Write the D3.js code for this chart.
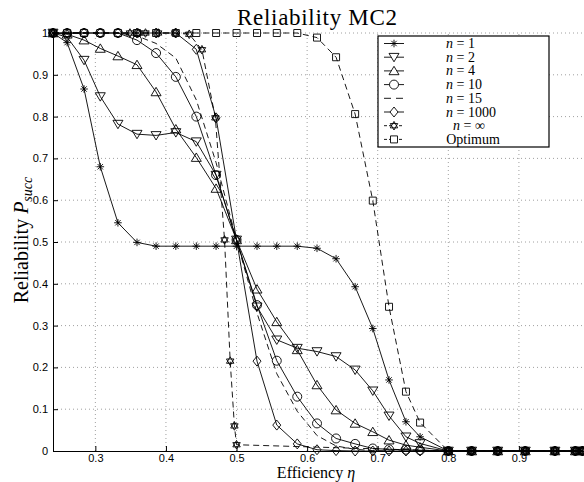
<!DOCTYPE html>
<html>
<head>
<meta charset="utf-8">
<script src="https://d3js.org/d3.v7.min.js"></script>
<style>
  body { margin: 0; background: #fff; }
  svg { display: block; }
</style>
</head>
<body>
<div id="chart"></div>
<script>
// efficiency grid used by most curves
var etaGrid = [0.24, 0.26, 0.284, 0.307, 0.332, 0.359, 0.386, 0.414, 0.443, 0.471, 0.5,
    0.529, 0.557, 0.586, 0.614, 0.641, 0.668, 0.693, 0.716, 0.74, 0.76,
    0.8, 0.833, 0.87, 0.909, 0.951, 0.98, 0.99];
// n = inf uses its own grid
var etaInf = [0.24, 0.349, 0.361, 0.371, 0.389, 0.413, 0.433, 0.451, 0.47, 0.483, 0.491, 0.497, 0.5,
    0.8, 0.833, 0.87, 0.909, 0.951, 0.98, 0.99];

var pN1 = [1, 0.977, 0.866, 0.68, 0.546, 0.499, 0.49, 0.49, 0.49, 0.49, 0.49,
    0.49, 0.49, 0.49, 0.485, 0.46, 0.393, 0.293, 0.17, 0.07, 0.034,
    0, 0, 0, 0, 0, 0, 0];
var pN2 = [1, 0.99, 0.935, 0.848, 0.782, 0.758, 0.755, 0.762, 0.74, 0.66, 0.505,
    0.345, 0.266, 0.246, 0.238, 0.226, 0.194, 0.144, 0.084, 0.034, 0.018,
    0, 0, 0, 0, 0, 0, 0];
var pN4 = [1, 0.997, 0.983, 0.963, 0.945, 0.924, 0.859, 0.77, 0.702, 0.628, 0.505,
    0.387, 0.309, 0.242, 0.158, 0.098, 0.066, 0.046, 0.026, 0.014, 0.009,
    0, 0, 0, 0, 0, 0, 0];
var pN10 = [1, 1, 1, 1, 1, 0.983, 0.952, 0.895, 0.8, 0.66, 0.505,
    0.349, 0.216, 0.13, 0.066, 0.03, 0.017, 0.006, 0.004, 0.003, 0.002,
    0, 0, 0, 0, 0, 0, 0];
var pN15 = [1, 1, 1, 1, 1, 0.993, 0.975, 0.94, 0.84, 0.69, 0.505,
    0.33, 0.185, 0.095, 0.037, 0.012, 0.004, 0.001, 0, 0, 0,
    0, 0, 0, 0, 0, 0, 0];
var pN1000 = [1, 1, 1, 1, 1, 1, 1, 1, 0.961, 0.797, 0.505,
    0.215, 0.062, 0.017, 0.003, 0.001, 0, 0, 0, 0, 0,
    0, 0, 0, 0, 0, 0, 0];
var pInf = [1, 1, 1, 1, 1, 1, 0.997, 0.96, 0.797, 0.505, 0.215, 0.06, 0.015,
    0, 0, 0, 0, 0, 0, 0];
var pOpt = [1, 1, 1, 1, 1, 1, 1, 1, 1, 1, 1,
    1, 1, 1, 0.989, 0.942, 0.806, 0.599, 0.345, 0.142, 0.068,
    0, 0, 0, 0, 0, 0, 0];

var xTicks = [0.3, 0.4, 0.5, 0.6, 0.7, 0.8, 0.9, 1.0];
var yTicks = [0, 0.1, 0.2, 0.3, 0.4, 0.5, 0.6, 0.7, 0.8, 0.9, 1];

var series = [
    { label: "1", eta: etaGrid, p: pN1, marker: "star", dash: null },
    { label: "2", eta: etaGrid, p: pN2, marker: "tdown", dash: null },
    { label: "4", eta: etaGrid, p: pN4, marker: "tup", dash: null },
    { label: "10", eta: etaGrid, p: pN10, marker: "circle", dash: null },
    { label: "15", eta: etaGrid, p: pN15, marker: null, dash: "6,4" },
    { label: "1000", eta: etaGrid, p: pN1000, marker: "diamond", dash: null },
    { label: "\u221E", eta: etaInf, p: pInf, marker: "hexagram", dash: "6,4" },
    { label: "Optimum", eta: etaGrid, p: pOpt, marker: "square", dash: "6,4" }
];

const width = 584, height = 482;
const svg = d3.select("#chart").append("svg")
    .attr("width", width)
    .attr("height", height);

const x = d3.scaleLinear().domain([0.24, 1.0]).range([53, 589.5]);
const y = d3.scaleLinear().domain([0, 1]).range([451, 33]);

// grid
const grid = svg.append("g").attr("stroke", "#888").attr("stroke-width", 0.8)
    .attr("stroke-dasharray", "1,3");
grid.selectAll(".gx").data(xTicks).join("line")
    .attr("x1", d => x(d)).attr("x2", d => x(d))
    .attr("y1", y(0)).attr("y2", y(1));
grid.selectAll(".gy").data(yTicks.slice(1)).join("line")
    .attr("x1", x(0.24)).attr("x2", x(1.0))
    .attr("y1", d => y(d)).attr("y2", d => y(d));

// axes (MATLAB style, ticks inward)
const xAxis = svg.append("g").attr("transform", `translate(0,${y(0)})`)
    .call(d3.axisBottom(x).tickValues(xTicks.filter(d => d < 0.95)).tickSizeInner(-5).tickSizeOuter(0)
        .tickPadding(3).tickFormat(d3.format(".1f")));
const yAxis = svg.append("g").attr("transform", `translate(${x(0.24)},0)`)
    .call(d3.axisLeft(y).tickValues(yTicks).tickSizeInner(-5).tickSizeOuter(0)
        .tickPadding(5).tickFormat(d => d === 0 || d === 1 ? d3.format("d")(d) : d3.format(".1f")(d)));
[xAxis, yAxis].forEach(a => {
    a.select(".domain").attr("stroke", "#000").attr("stroke-width", 1);
    a.selectAll(".tick line").attr("stroke", "#000");
    a.selectAll(".tick text").attr("font-family", "Liberation Sans, Arial, sans-serif")
        .attr("font-size", 11).attr("fill", "#000");
});

// marker shapes
function markerPath(type) {
    const p = d3.path();
    if (type === "star") {
        const r = 3.8;
        [0, 45, 90, 135].forEach(a => {
            const t = a * Math.PI / 180;
            p.moveTo(-r * Math.cos(t), -r * Math.sin(t));
            p.lineTo(r * Math.cos(t), r * Math.sin(t));
        });
    } else if (type === "tdown") {
        p.moveTo(-5, -3.8); p.lineTo(5, -3.8); p.lineTo(0, 4.6); p.closePath();
    } else if (type === "tup") {
        p.moveTo(-5, 3.8); p.lineTo(5, 3.8); p.lineTo(0, -4.6); p.closePath();
    } else if (type === "circle") {
        p.moveTo(4.5, 0); p.arc(0, 0, 4.5, 0, 2 * Math.PI);
    } else if (type === "diamond") {
        p.moveTo(0, -5); p.lineTo(4, 0); p.lineTo(0, 5); p.lineTo(-4, 0); p.closePath();
    } else if (type === "hexagram") {
        const r = 4.3;
        [-90, 90].forEach(s => {
            for (let k = 0; k < 3; k++) {
                const t = (s + k * 120) * Math.PI / 180;
                if (k === 0) p.moveTo(r * Math.cos(t), r * Math.sin(t));
                else p.lineTo(r * Math.cos(t), r * Math.sin(t));
            }
            p.closePath();
        });
    } else if (type === "square") {
        p.rect(-3.5, -3.5, 7, 7);
    }
    return p.toString();
}

const line = d3.line().x(d => x(d[0])).y(d => y(d[1]));
const plot = svg.append("g");

series.forEach(s => {
    const pts = s.eta.map((e, i) => [e, s.p[i]]);
    plot.append("path")
        .attr("d", line(pts))
        .attr("fill", "none")
        .attr("stroke", "#000")
        .attr("stroke-width", 0.9)
        .attr("stroke-dasharray", s.dash);
    if (s.marker) {
        plot.append("g").selectAll("path").data(pts).join("path")
            .attr("transform", d => `translate(${x(d[0])},${y(d[1])})`)
            .attr("d", markerPath(s.marker))
            .attr("fill", "none")
            .attr("stroke", "#000")
            .attr("stroke-width", 0.9);
    }
});

// title and axis labels
svg.append("text")
    .attr("x", 317).attr("y", 25)
    .attr("text-anchor", "middle")
    .attr("font-family", "Liberation Serif, Times New Roman, serif")
    .attr("font-size", 23)
    .attr("textLength", 160)
    .text("Reliability MC2");

const xl = svg.append("text")
    .attr("x", 316).attr("y", 478.4)
    .attr("text-anchor", "middle")
    .attr("font-family", "Liberation Serif, Times New Roman, serif")
    .attr("font-size", 16);
xl.append("tspan").text("Efficiency ");
xl.append("tspan").attr("font-style", "italic").text("\u03B7");

const yl = svg.append("text")
    .attr("transform", "translate(28,240) rotate(-90)")
    .attr("text-anchor", "middle")
    .attr("font-family", "Liberation Serif, Times New Roman, serif")
    .attr("font-size", 20);
yl.append("tspan").text("Reliability ");
yl.append("tspan").attr("font-style", "italic").text("P");
yl.append("tspan").attr("font-style", "italic").attr("font-size", 14).attr("dy", 4).text("succ");

// legend
const legend = svg.append("g");
legend.append("rect")
    .attr("x", 378).attr("y", 36).attr("width", 171).attr("height", 111)
    .attr("fill", "#fff").attr("stroke", "#000").attr("stroke-width", 1.2);
const rowH = 13.7;
const rows = legend.selectAll(".row").data(series).join("g")
    .attr("transform", (d, i) => `translate(0,${43.5 + i * rowH})`);
rows.append("line")
    .attr("x1", 384).attr("x2", 404)
    .attr("stroke", "#000").attr("stroke-width", 0.9)
    .attr("stroke-dasharray", d => d.dash ? (d.marker ? "3,2" : "7,5") : null);
rows.filter(d => d.marker).append("path")
    .attr("transform", "translate(394,0)")
    .attr("d", d => markerPath(d.marker))
    .attr("fill", "#fff").attr("stroke", "#000").attr("stroke-width", 0.9);
const lt = rows.append("text")
    .attr("x", d => d.label === "Optimum" ? 473 : (d.label === "\u221E" ? 453 : 446))
    .attr("y", 4.5)
    .attr("text-anchor", d => d.label === "Optimum" ? "middle" : "start")
    .attr("font-family", "Liberation Serif, Times New Roman, serif")
    .attr("font-size", 14);
lt.each(function (d) {
    const t = d3.select(this);
    if (d.label === "Optimum") {
        t.text("Optimum");
    } else {
        t.append("tspan").attr("font-style", "italic").text("n");
        t.append("tspan").text(" = " + d.label);
    }
});
</script>
</body>
</html>
